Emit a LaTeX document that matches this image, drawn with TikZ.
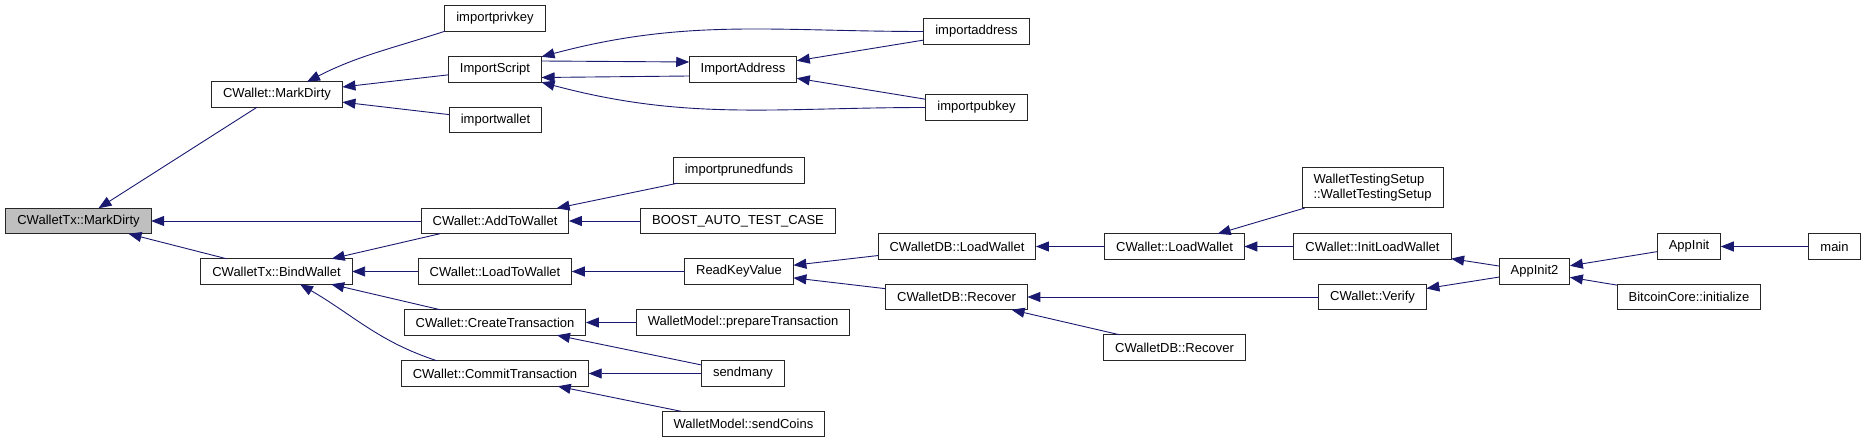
\documentclass[tikz,border=0pt]{standalone}
\usepackage{fontspec}
\setmainfont{Liberation Sans}
\usetikzlibrary{arrows.meta}
\definecolor{edgeblue}{RGB}{25,25,112}
\definecolor{rootgray}{RGB}{191,191,191}

\begin{document}
\begin{tikzpicture}[x=1pt,y=1pt,
    fn/.style={draw=black!85, line width=1pt, fill=white, inner xsep=11.5pt, inner ysep=0pt,
      minimum height=25.5pt, outer sep=0pt, font=\fontsize{13}{15}\selectfont},
    call/.style={draw=edgeblue, line width=0.9pt, {Triangle[length=13pt,width=10pt]}-}]
    \useasboundingbox (0,0) rectangle (1865,-443);

    % Functions, column by column
    \node[fn, fill=rootgray] (txdirty) at (78.5,-221) {CWalletTx::MarkDirty};
    \node[fn] (wdirty) at (277,-94.5) {CWallet::MarkDirty};
    \node[fn] (bindw) at (276.5,-271.5) {CWalletTx::BindWallet};

    \node[fn] (privkey) at (495,-18.5) {importprivkey};
    \node[fn] (iscript) at (495,-69.5) {ImportScript};
    \node[fn] (iwallet) at (495.5,-120) {importwallet};
    \node[fn] (addtw) at (495,-221) {CWallet::AddToWallet};
    \node[fn] (loadtw) at (495,-271.5) {CWallet::LoadToWallet};
    \node[fn] (createtx) at (495,-322.5) {CWallet::CreateTransaction};
    \node[fn] (committx) at (495,-373.5) {CWallet::CommitTransaction};

    \node[fn] (iaddr) at (743,-69.5) {ImportAddress};
    \node[fn] (prunedf) at (739,-170.5) {importprunedfunds};
    \node[fn] (boost) at (738,-221) {BOOST\_AUTO\_TEST\_CASE};
    \node[fn] (readkv) at (739,-271.5) {ReadKeyValue};
    \node[fn] (preptx) at (743,-322.5) {WalletModel::prepareTransaction};
    \node[fn] (sendmany) at (743,-373.5) {sendmany};
    \node[fn] (sendcoins) at (743.5,-424) {WalletModel::sendCoins};

    \node[fn] (impaddr) at (976.5,-31.5) {importaddress};
    \node[fn] (imppub) at (976.5,-107.5) {importpubkey};
    \node[fn] (dbload) at (957,-246.5) {CWalletDB::LoadWallet};
    \node[fn] (dbrecover) at (956.5,-297) {CWalletDB::Recover};

    \node[fn] (wload) at (1174.5,-246.5) {CWallet::LoadWallet};
    \node[fn] (dbrecover2) at (1174.5,-347.5) {CWalletDB::Recover};

    \node[fn, align=left, minimum height=40pt] (wtsetup) at (1372.5,-188) {WalletTestingSetup\\::WalletTestingSetup};
    \node[fn] (initload) at (1372.5,-246.5) {CWallet::InitLoadWallet};
    \node[fn] (verify) at (1372.5,-297) {CWallet::Verify};

    \node[fn] (appinit2) at (1534.5,-271.5) {AppInit2};
    \node[fn] (appinit) at (1689,-246.5) {AppInit};
    \node[fn] (btccore) at (1689,-297) {BitcoinCore::initialize};
    \node[fn] (mainfn) at (1834.5,-246.5) {main};

    % Callers of CWalletTx::MarkDirty
    \draw[call] (txdirty) -- (wdirty);
    \draw[call] (txdirty) -- (addtw);
    \draw[call] (txdirty) -- (bindw);

    % Callers of CWallet::MarkDirty
    \draw[call] ([xshift=30pt]wdirty.north) to[out=27,in=198] (privkey.south west);
    \draw[call] (wdirty) -- (iscript);
    \draw[call] (wdirty) -- (iwallet);

    % ImportScript and ImportAddress
    \draw[call] ([yshift=7.5pt]iaddr.west) -- ([yshift=8.5pt]iscript.east);
    \draw[call] ([yshift=-8pt]iscript.east) -- ([yshift=-6.5pt]iaddr.west);
    \draw[call] (iscript.north east) to[out=15,in=180] (impaddr.west);
    \draw[call] (iscript.south east) to[out=-15,in=180] (imppub.west);
    \draw[call] (iaddr) -- (impaddr);
    \draw[call] (iaddr) -- (imppub);

    % Callers of CWallet::AddToWallet
    \draw[call] (addtw) -- (prunedf);
    \draw[call] (addtw) -- (boost);

    % Callers of CWalletTx::BindWallet
    \draw[call] (bindw) -- (addtw);
    \draw[call] (bindw) -- (loadtw);
    \draw[call] (bindw) -- (createtx);
    \draw[call] ([xshift=23.5pt]bindw.south) to[out=-30,in=162] ([xshift=-58pt]committx.north);

    % Transactions
    \draw[call] (createtx) -- (preptx);
    \draw[call] (createtx) -- (sendmany);
    \draw[call] (committx) -- (sendmany);
    \draw[call] (committx) -- (sendcoins);

    % Wallet loading
    \draw[call] (loadtw) -- (readkv);
    \draw[call] (readkv) -- (dbload);
    \draw[call] (readkv) -- (dbrecover);
    \draw[call] (dbload) -- (wload);
    \draw[call] (dbrecover) -- (verify);
    \draw[call] (dbrecover) -- (dbrecover2);
    \draw[call] (wload) -- (wtsetup);
    \draw[call] (wload) -- (initload);

    % Init
    \draw[call] (initload) -- (appinit2);
    \draw[call] (verify) -- (appinit2);
    \draw[call] (appinit2) -- (appinit);
    \draw[call] (appinit2) -- (btccore);
    \draw[call] (appinit) -- (mainfn);
\end{tikzpicture}
\end{document}
